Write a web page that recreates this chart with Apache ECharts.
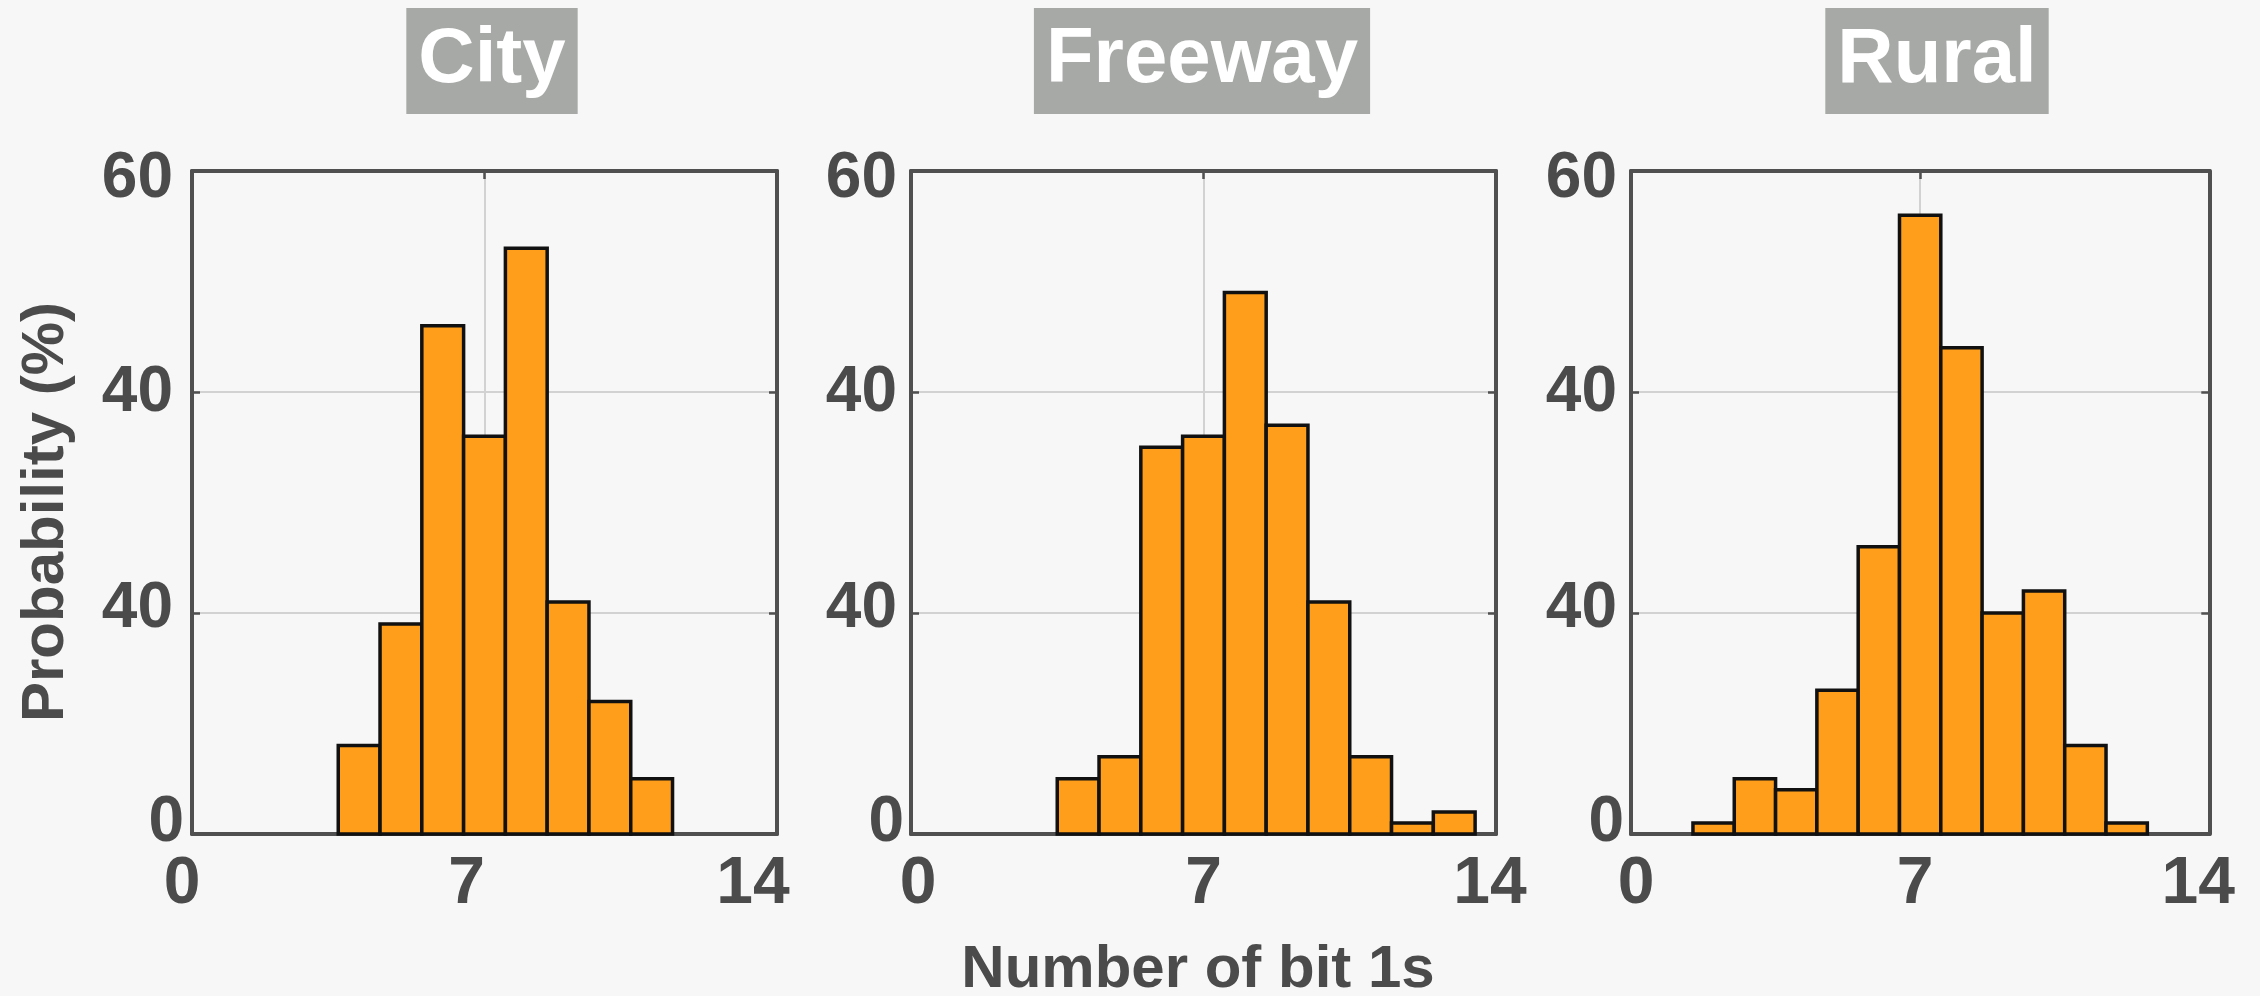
<!DOCTYPE html>
<html>
<head>
<meta charset="utf-8">
<title>Number of bit 1s</title>
<script src="https://cdn.jsdelivr.net/npm/echarts@6/dist/echarts.min.js"></script>
<style>
  html, body { margin: 0; padding: 0; background: #f7f7f7; }
  #chart { width: 2260px; height: 996px; }
</style>
</head>
<body>
<div id="chart"></div>
<script>
// Histogram bins: centre of each bin (number of bit 1s) and its probability
const panelTitles = ['City', 'Freeway', 'Rural'];

const cityBins = [4, 5, 6, 7, 8, 9, 10, 11];
const cityValues = [8, 19, 46, 36, 53, 21, 12, 5];

const freewayBins = [4, 5, 6, 7, 8, 9, 10, 11, 12, 13];
const freewayValues = [5, 7, 35, 36, 49, 37, 21, 7, 1, 2];

const ruralBins = [2, 3, 4, 5, 6, 7, 8, 9, 10, 11, 12];
const ruralValues = [1, 5, 4, 13, 26, 56, 44, 20, 22, 8, 1];

// Axis ticks and the text printed at each tick
const xTicks = [0, 7, 14];
const xTickLabels = ['0', '7', '14'];
const yTicks = [0, 20, 40, 60];
const yTickLabels = ['0', '40', '40', '60'];

const BIN_WIDTH = 1;

const FONT = '"Liberation Sans", Arial, Helvetica, sans-serif';
const TEXT = '#4b4b4b';
const FRAME = '#505050';
const GRIDLINE = '#d2d2d2';
const BAR_FILL = '#ff9e1a';
const BAR_EDGE = '#111111';

const panels = [
  { bins: cityBins, values: cityValues },
  { bins: freewayBins, values: freewayValues },
  { bins: ruralBins, values: ruralValues }
];

// Layout of the three plot boxes
const gridLefts = [192, 911, 1631];
const GRID_TOP = 171;
const GRID_W = 585;
const GRID_H = 663;
const titleCenters = [492, 1202, 1937];

// Per-panel nudges of the tick labels (padding in px)
const xLabelShift = [
  [-10, -18, -24],
  [7, 0, -6],
  [5, -5, -11]
];
const yLabelRight = [
  [1, 12, 12, 12],
  [0, 7, 7, 7],
  [0, 7, 7, 7]
];
const yLabelVert = [-11, -3.5, 1, 8];

function xRich(p) {
  const rich = {};
  xTicks.forEach((t, i) => {
    const d = xLabelShift[p][i];
    rich['x' + i] = {
      fontSize: 66, fontWeight: 'bold', fontFamily: FONT, color: TEXT,
      lineHeight: 66,
      padding: [0, d < 0 ? -2 * d : 0, 0, d > 0 ? 2 * d : 0]
    };
  });
  return rich;
}

function yRich(p) {
  const rich = {};
  yTicks.forEach((t, i) => {
    const v = yLabelVert[i];
    rich['y' + i] = {
      fontSize: 64, fontWeight: 'bold', fontFamily: FONT, color: TEXT,
      lineHeight: 64,
      padding: [v > 0 ? 2 * v : 0, yLabelRight[p][i], v < 0 ? -2 * v : 0, 0]
    };
  });
  return rich;
}

const grids = [], xAxes = [], yAxes = [], series = [], graphics = [];

panels.forEach((panel, p) => {
  grids.push({ left: gridLefts[p], top: GRID_TOP, width: GRID_W, height: GRID_H });

  const lineStyle = { color: FRAME, width: 4 };
  const tickStyle = { color: FRAME, width: 2.5 };

  xAxes.push({
    type: 'value', gridIndex: p, position: 'bottom',
    min: xTicks[0], max: xTicks[xTicks.length - 1], interval: 7,
    axisLine: { show: true, onZero: false, lineStyle },
    axisTick: { show: true, inside: true, length: 8, lineStyle: tickStyle },
    splitLine: { show: true, lineStyle: { color: GRIDLINE, width: 2 } },
    axisLabel: {
      margin: 18,
      formatter: (v) => {
        const i = xTicks.indexOf(v);
        return i < 0 ? '' : '{x' + i + '|' + xTickLabels[i] + '}';
      },
      rich: xRich(p)
    }
  });
  xAxes.push({
    type: 'value', gridIndex: p, position: 'top',
    min: xTicks[0], max: xTicks[xTicks.length - 1], interval: 7,
    axisLine: { show: true, onZero: false, lineStyle },
    axisTick: { show: true, inside: true, length: 8, lineStyle: tickStyle },
    splitLine: { show: false },
    axisLabel: { show: false }
  });

  yAxes.push({
    type: 'value', gridIndex: p, position: 'left',
    min: yTicks[0], max: yTicks[yTicks.length - 1], interval: 20,
    axisLine: { show: true, onZero: false, lineStyle },
    axisTick: { show: true, inside: true, length: 8, lineStyle: tickStyle },
    splitLine: { show: true, lineStyle: { color: GRIDLINE, width: 2 } },
    axisLabel: {
      margin: 7,
      formatter: (v) => {
        const i = yTicks.indexOf(v);
        return i < 0 ? '' : '{y' + i + '|' + yTickLabels[i] + '}';
      },
      rich: yRich(p)
    }
  });
  yAxes.push({
    type: 'value', gridIndex: p, position: 'right',
    min: yTicks[0], max: yTicks[yTicks.length - 1], interval: 20,
    axisLine: { show: true, onZero: false, lineStyle },
    axisTick: { show: true, inside: true, length: 8, lineStyle: tickStyle },
    splitLine: { show: false },
    axisLabel: { show: false }
  });

  series.push({
    type: 'custom',
    name: panelTitles[p],
    xAxisIndex: 2 * p,
    yAxisIndex: 2 * p,
    data: panel.bins.map((b, i) => [b, panel.values[i]]),
    encode: { x: 0, y: 1 },
    z: 3,
    renderItem: (params, api) => {
      const c = api.value(0);
      const v = api.value(1);
      const topLeft = api.coord([c - BIN_WIDTH / 2, v]);
      const bottomRight = api.coord([c + BIN_WIDTH / 2, 0]);
      return {
        type: 'rect',
        shape: {
          x: topLeft[0], y: topLeft[1],
          width: bottomRight[0] - topLeft[0],
          height: bottomRight[1] - topLeft[1]
        },
        style: { fill: BAR_FILL, stroke: BAR_EDGE, lineWidth: 3.5 }
      };
    }
  });

  // Panel heading in a grey box
  graphics.push({
    type: 'text',
    x: titleCenters[p], y: 8,
    z: 10,
    style: {
      text: panelTitles[p],
      fontSize: 78, fontWeight: 'bold', fontFamily: FONT,
      fill: '#ffffff',
      align: 'center', verticalAlign: 'top',
      lineHeight: 78,
      backgroundColor: '#a6a9a6',
      padding: [13, 12, 15, 12]
    }
  });
});

// Shared axis titles
graphics.push({
  type: 'text',
  x: 46, y: 512,
  rotation: Math.PI / 2,
  style: {
    text: 'Probability (%)',
    fontSize: 60, fontWeight: 'bold', fontFamily: FONT,
    fill: TEXT, align: 'center', verticalAlign: 'middle'
  }
});
graphics.push({
  type: 'text',
  x: 1198, y: 970,
  style: {
    text: 'Number of bit 1s',
    fontSize: 60, fontWeight: 'bold', fontFamily: FONT,
    fill: TEXT, align: 'center', verticalAlign: 'middle'
  }
});

const chart = echarts.init(document.getElementById('chart'), null, { renderer: 'canvas' });
chart.setOption({
  backgroundColor: '#f7f7f7',
  animation: false,
  grid: grids,
  xAxis: xAxes,
  yAxis: yAxes,
  series: series,
  graphic: graphics
});
</script>
</body>
</html>
